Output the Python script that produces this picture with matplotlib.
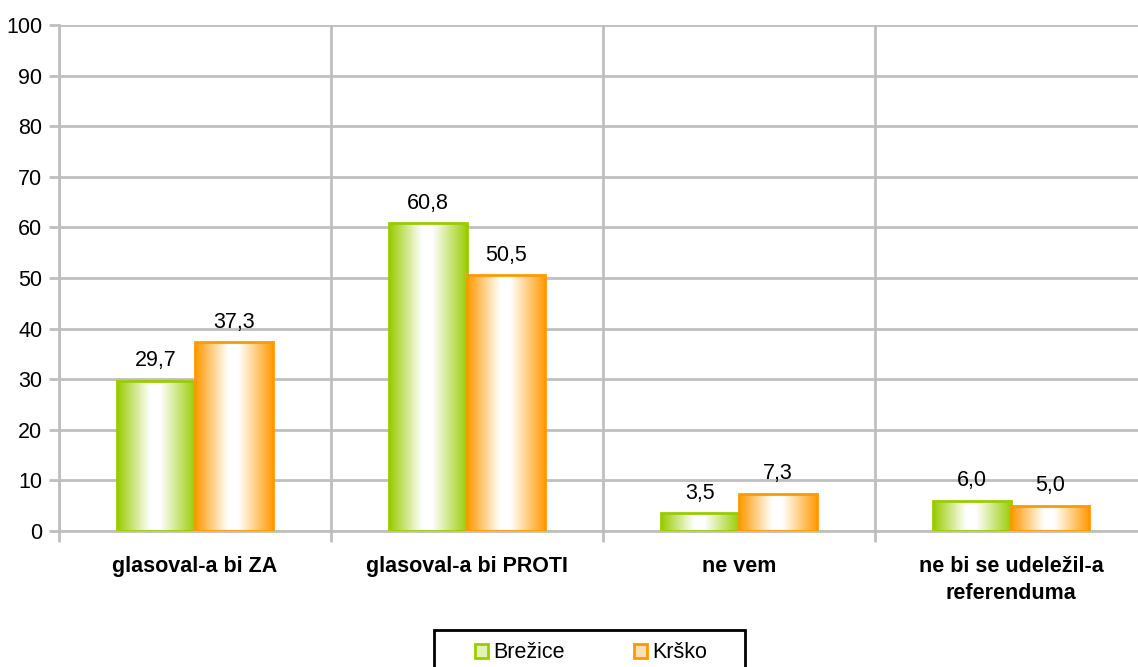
import numpy as np
import matplotlib
matplotlib.use("Agg")
import matplotlib.pyplot as plt
from matplotlib.colors import LinearSegmentedColormap
from matplotlib.patches import Rectangle, Patch

# data
categories = ["glasoval-a bi ZA", "glasoval-a bi PROTI", "ne vem",
              "ne bi se udeležil-a\nreferenduma"]
brezice = [29.7, 60.8, 3.5, 6.0]
krsko = [37.3, 50.5, 7.3, 5.0]
series_names = ["Brežice", "Krško"]

green = "#99CC00"
orange = "#FF9900"
grid_c = "#BFBFBF"
fs = 15.5

plt.rcParams['font.family'] = ['Liberation Sans', 'DejaVu Sans']

fig = plt.figure(figsize=(11.38, 6.67), dpi=100)
ax = fig.add_axes([59/1138, 1-531/667, 1088/1138, 506/667])

x = np.arange(len(categories))
w = 0.287

grad = np.linspace(0, 1, 256).reshape(1, -1)

def gradient_bars(xpos, vals, color):
    cmap = LinearSegmentedColormap.from_list(
        "g", [(0, color), (0.42, "white"), (0.55, "white"), (1, color)])
    bars = ax.bar(xpos, vals, w, facecolor="none", edgecolor=color,
                  linewidth=2, zorder=4)
    for b in bars:
        x0, y0 = b.get_x(), b.get_y()
        im = ax.imshow(grad, cmap=cmap, extent=[x0, x0 + b.get_width(), y0, y0 + b.get_height()],
                       aspect="auto", zorder=3, interpolation="bicubic")
        im.set_clip_path(b)
    for b, v in zip(bars, vals):
        ax.annotate(f"{v:.1f}".replace(".", ","),
                    (b.get_x() + b.get_width()/2, b.get_height()),
                    xytext=(0, 7), textcoords="offset points",
                    ha="center", va="bottom", fontsize=fs)
    return bars

gradient_bars(x - w/2, brezice, green)
gradient_bars(x + w/2, krsko, orange)

ax.set_xlim(-0.5, len(categories) - 0.5)
ax.set_ylim(0, 100)
ax.set_yticks(range(0, 101, 10))
ax.set_xticks(x)
ax.set_xticklabels(categories, fontweight="bold", fontsize=fs, linespacing=1.4)
ax.set_xticks(np.arange(-0.5, len(categories), 1), minor=True)

ax.tick_params(axis="x", which="major", length=0, pad=18)
ax.tick_params(axis="x", which="minor", length=8, width=2, color=grid_c)
ax.tick_params(axis="y", length=7, width=2, color=grid_c, labelsize=fs, pad=5)

ax.grid(axis="y", color=grid_c, linewidth=2, zorder=0)
ax.grid(axis="x", which="minor", color=grid_c, linewidth=2, zorder=0)
ax.set_axisbelow(True)

for s in ["top", "right"]:
    ax.spines[s].set_visible(False)
for s in ["left", "bottom"]:
    ax.spines[s].set_color(grid_c)
    ax.spines[s].set_linewidth(2)

# legend
handles = [Patch(facecolor="#e4f2b8", edgecolor=green, linewidth=2),
           Patch(facecolor="#ffe0b8", edgecolor=orange, linewidth=2)]
fig.legend(handles, series_names, loc="center", bbox_to_anchor=(591/1138, 1-653/667),
           ncol=2, frameon=False, fontsize=fs, handlelength=0.6, handleheight=0.6,
           handletextpad=0.25, columnspacing=3.2)
fig.patches.append(Rectangle((434/1138, -0.05), 311/1138, 0.05 + 1-630/667,
                             transform=fig.transFigure, fill=False,
                             edgecolor="black", linewidth=2))

plt.savefig("out.png")
plt.close()
